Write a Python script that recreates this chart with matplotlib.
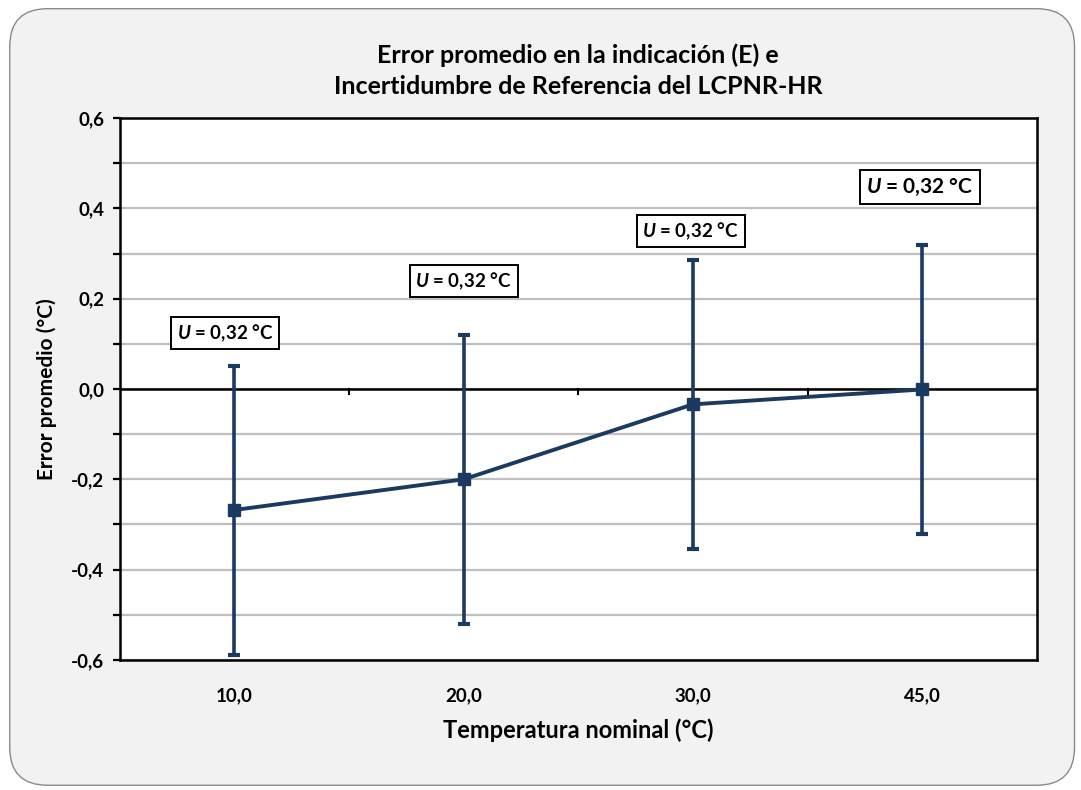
import matplotlib
matplotlib.use("Agg")
import matplotlib.pyplot as plt
from matplotlib.patches import FancyBboxPatch
from matplotlib.ticker import MultipleLocator, FuncFormatter

plt.rcParams['font.family'] = ['Lato', 'DejaVu Sans']
plt.rcParams['mathtext.fontset'] = 'custom'
plt.rcParams['mathtext.bfit'] = 'Lato:italic:bold'
plt.rcParams['mathtext.it'] = 'Lato:italic:bold'

# datos
categorias = ["10,0", "20,0", "30,0", "45,0"]
error_prom = [-0.268, -0.200, -0.034, -0.001]
incert = [0.32, 0.32, 0.32, 0.32]
etiquetas_U = ["0,32", "0,32", "0,32", "0,32"]

azul = "#1b3a62"

fig = plt.figure(figsize=(10.81, 7.90), dpi=100)
fig.patch.set_facecolor("white")
marco = FancyBboxPatch((0.009, 0.006), 0.985, 0.983,
                       boxstyle="round,pad=0,rounding_size=0.035",
                       transform=fig.transFigure, facecolor="#f2f2f2",
                       edgecolor="#8a8a8a", linewidth=1.0, zorder=-10,
                       mutation_aspect=1081 / 790)
fig.patches.append(marco)

ax = fig.add_axes([0.1106, 0.1646, 0.8487, 0.686])
ax.set_facecolor("white")

x = list(range(1, len(categorias) + 1))

# lineas de cuadricula
ax.yaxis.set_major_locator(MultipleLocator(0.2))
ax.yaxis.set_minor_locator(MultipleLocator(0.1))
ax.grid(True, which="both", axis="y", color="#bfbfbf", linewidth=1.6, zorder=0)
ax.set_ylim(-0.6, 0.6)
ax.set_xlim(0.5, len(categorias) + 0.5)

# eje en cero
ax.axhline(0, color="black", linewidth=1.8, zorder=2)
for xb in [1.5, 2.5, 3.5]:
    ax.plot([xb, xb], [0, -0.012], color="black", linewidth=1.5, zorder=2)

ax.errorbar(x, error_prom, yerr=incert, color=azul, linewidth=2.8,
            marker="s", markersize=8, elinewidth=2.6, capsize=4.5,
            capthick=3, zorder=4)

for s in ax.spines.values():
    s.set_color("black")
    s.set_linewidth(1.8)

ax.set_xticks(x)
ax.set_xticklabels(categorias)
ax.tick_params(axis="x", length=0, pad=20, labelsize=13.5)
ax.tick_params(axis="y", which="both", direction="out", length=5, width=1.6,
               labelsize=13.5, pad=6)
for lab in ax.get_xticklabels() + ax.get_yticklabels():
    lab.set_fontweight("bold")
ax.yaxis.set_major_formatter(FuncFormatter(lambda v, p: f"{v:.1f}".replace(".", ",").replace("-0,0", "0,0")))

ax.set_xlabel("Temperatura nominal (°C)", fontsize=17, fontweight="bold", labelpad=10)
ax.set_ylabel("Error promedio (°C)", fontsize=15, fontweight="bold", labelpad=10)
ax.set_title("Error promedio en la indicación (E) e\nIncertidumbre de Referencia del LCPNR-HR",
             fontsize=18, fontweight="bold", pad=17, linespacing=1.45)

# cuadros de texto
pos_cuadros = [(0.96, 0.124, 13.5), (2.0, 0.239, 13.5), (2.99, 0.35, 13.5), (3.99, 0.447, 15)]
for (xc, yc, fs), u in zip(pos_cuadros, etiquetas_U):
    ax.text(xc, yc, r"$\mathit{U}$ = " + u + " °C", ha="center", va="center",
            fontsize=fs, fontweight="bold", zorder=5,
            bbox=dict(boxstyle="square,pad=0.3", facecolor="white",
                      edgecolor="black", linewidth=1.4))

fig.savefig("out.png", dpi=100, facecolor=fig.get_facecolor())
